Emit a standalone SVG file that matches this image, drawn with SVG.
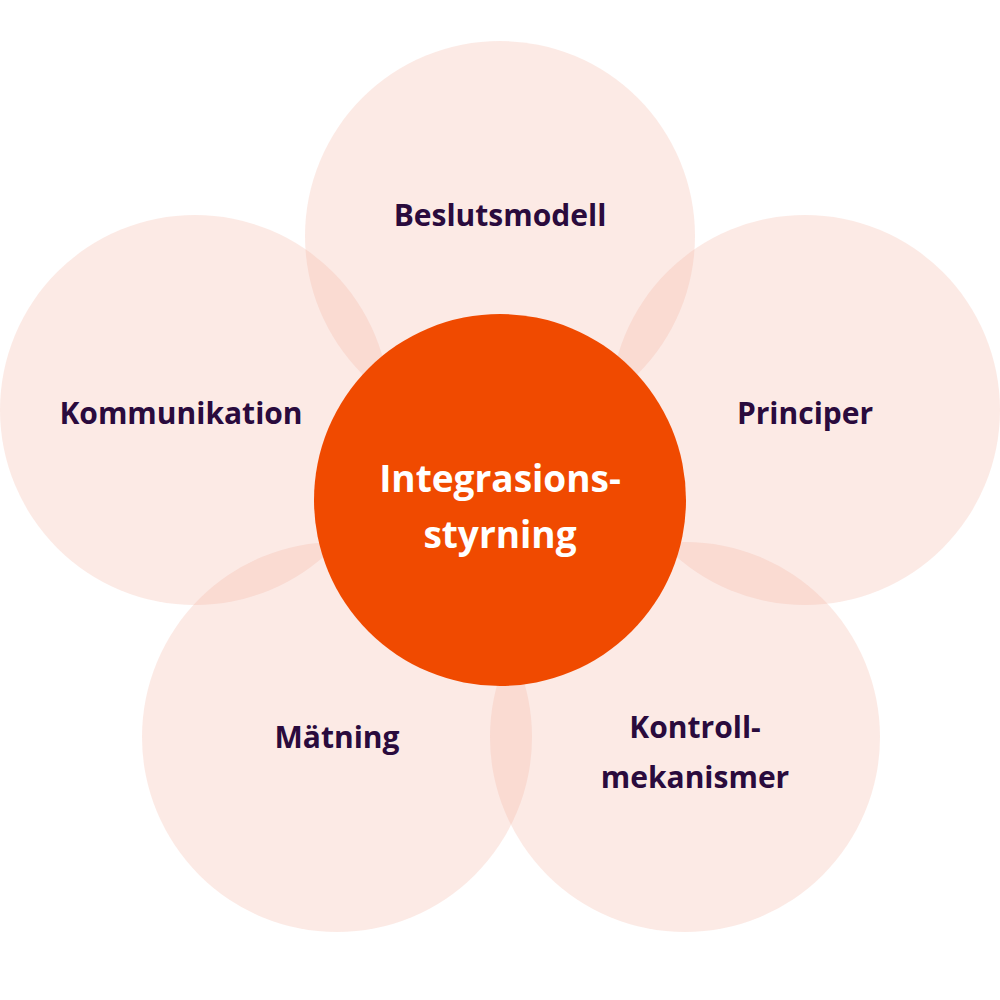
<svg xmlns="http://www.w3.org/2000/svg" width="1000" height="1000" viewBox="0 0 1000 1000">
<style>
.p{fill:#f5b4a0;opacity:0.28}
.t{font-family:"Open Sans","Liberation Sans",sans-serif;font-weight:bold;font-size:30px;fill:#2a0b3d;text-anchor:middle}
.c{font-family:"Open Sans","Liberation Sans",sans-serif;font-weight:bold;font-size:37px;fill:#fff;text-anchor:middle}
</style>
<rect width="1000" height="1000" fill="#fff"/>
<g id="beslutsmodell"><circle class="p" cx="500" cy="236" r="195"/><text class="t" x="500" y="226">Beslutsmodell</text></g>
<g id="kommunikation"><circle class="p" cx="195" cy="410" r="195"/><text class="t" x="181" y="424">Kommunikation</text></g>
<g id="principer"><circle class="p" cx="805" cy="410" r="195"/><text class="t" x="805" y="424">Principer</text></g>
<g id="matning"><circle class="p" cx="337" cy="737" r="195"/><text class="t" x="337" y="748">Mätning</text></g>
<g id="kontroll"><circle class="p" cx="685" cy="737" r="195"/><text class="t" x="695" y="738">Kontroll-</text><text class="t" x="695" y="788">mekanismer</text></g>
<g id="center"><circle cx="500" cy="500" r="186" fill="#f04a00"/><text class="c" x="500" y="492">Integrasions-</text><text class="c" x="500" y="548">styrning</text></g>
</svg>
